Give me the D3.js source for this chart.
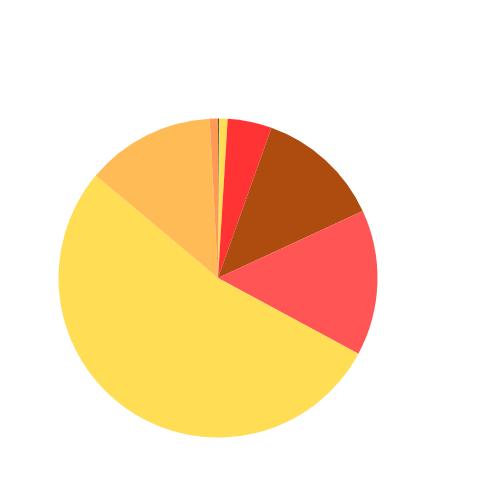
<!DOCTYPE html>
<html>
<head>
<meta charset="utf-8">
<script src="https://cdn.jsdelivr.net/npm/d3@7"></script>
<style>
  body { margin: 0; background: #fff; }
</style>
</head>
<body>
<div id="chart"></div>
<script>
// slice data, clockwise from 12 o'clock
var categories = ["A", "B", "C", "D", "E", "F", "G", "H"];
var values = [0.1, 0.87, 4.47, 12.65, 14.76, 53.22, 13.06, 0.83];
var colors = ["#3e4d5c", "#ffdd55", "#ff3333", "#ad4c0e", "#ff5555", "#ffdd55", "#ffbb55", "#ff9955"];

var width = 500, height = 500;
var cx = 218, cy = 278, radius = 159.5;

var svg = d3.select("#chart")
  .append("svg")
    .attr("width", width)
    .attr("height", height)
  .append("g")
    .attr("transform", "translate(" + cx + "," + cy + ")");

var pie = d3.pie()
  .sort(null)
  .value(function(d) { return d; });

var arc = d3.arc()
  .innerRadius(0)
  .outerRadius(radius);

var color = d3.scaleOrdinal()
  .domain(categories)
  .range(colors);

svg.selectAll("path")
  .data(pie(values))
  .enter()
  .append("path")
    .attr("d", arc)
    .attr("fill", function(d, i) { return color(categories[i]); });
</script>
</body>
</html>
